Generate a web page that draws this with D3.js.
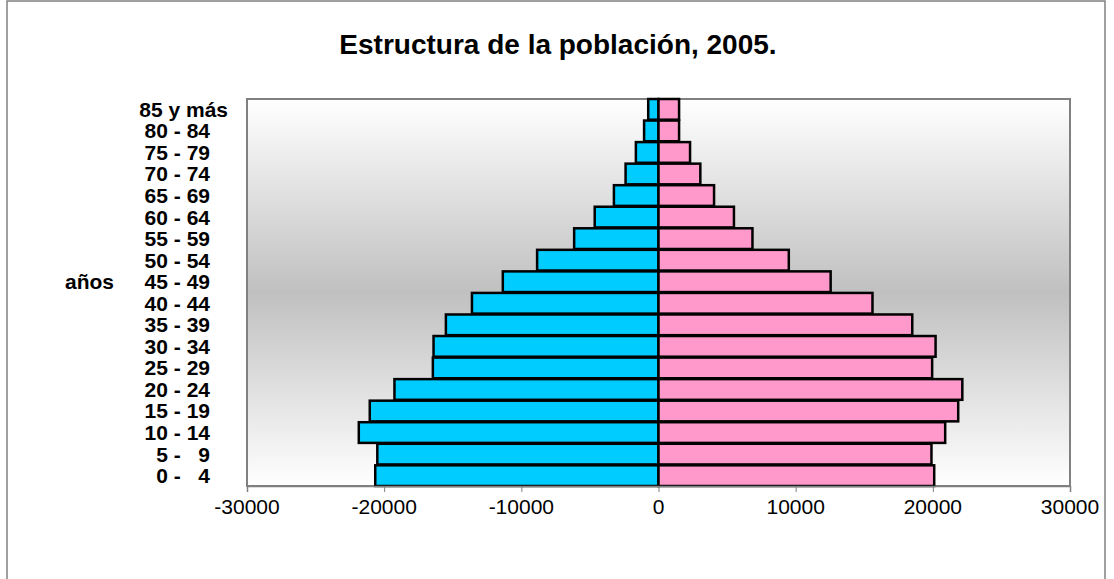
<!DOCTYPE html>
<html lang="es">
<head>
    <meta charset="UTF-8">
    <title>Estructura de la población, 2005.</title>
    <style>
        body { margin: 0; background: #fff; }
        svg { display: block; font-family: "Liberation Sans", Arial, sans-serif; }
        .title { font-size: 28px; font-weight: bold; text-anchor: middle; }
        .cat { font-size: 21px; font-weight: bold; white-space: pre; }
        .tick-label { font-size: 21px; text-anchor: middle; }
    </style>
</head>
<body>
    <svg id="chart" width="1114" height="579"></svg>
    <script src="https://d3js.org/d3.v7.min.js"></script>
    <script>
        // age groups, from youngest to oldest
        const categories = ["0 -   4", "5 -   9", "10 - 14", "15 - 19", "20 - 24", "25 - 29",
            "30 - 34", "35 - 39", "40 - 44", "45 - 49", "50 - 54", "55 - 59",
            "60 - 64", "65 - 69", "70 - 74", "75 - 79", "80 - 84", "85 y más"];
        // left side (blue)
        const hombres = [20650, 20500, 21850, 21050, 19250, 16450, 16400, 15500, 13600,
            11350, 8850, 6150, 4650, 3250, 2400, 1650, 1050, 750];
        // right side (pink)
        const mujeres = [20100, 19900, 20900, 21850, 22150, 19950, 20200, 18500, 15600,
            12550, 9500, 6850, 5500, 4050, 3050, 2300, 1500, 1500];
        const xTicks = [-30000, -20000, -10000, 0, 10000, 20000, 30000];

        const svg = d3.select("#chart");
        const plot = {left: 247, right: 1070, top: 99, bottom: 486};

        // gradient background of the plot area
        const grad = svg.append("defs").append("linearGradient")
            .attr("id", "bg").attr("x1", 0).attr("y1", 0).attr("x2", 0).attr("y2", 1);
        grad.append("stop").attr("offset", "0%").attr("stop-color", "#ffffff");
        grad.append("stop").attr("offset", "50%").attr("stop-color", "#c0c0c0");
        grad.append("stop").attr("offset", "100%").attr("stop-color", "#ffffff");

        // outer chart frame
        svg.append("rect")
            .attr("x", 7).attr("y", 1).attr("width", 1098).attr("height", 640)
            .attr("fill", "none").attr("stroke", "#808080").attr("stroke-width", 1.5);

        svg.append("text")
            .attr("class", "title")
            .attr("x", 558).attr("y", 54)
            .text("Estructura de la población, 2005.");

        const x = d3.scaleLinear().domain([-30000, 30000]).range([plot.left, plot.right]);
        const y = d3.scaleBand()
            .domain(categories.slice().reverse())
            .range([plot.top, plot.bottom])
            .paddingInner(0.04);

        svg.append("rect")
            .attr("x", plot.left).attr("y", plot.top)
            .attr("width", plot.right - plot.left).attr("height", plot.bottom - plot.top)
            .attr("fill", "url(#bg)").attr("stroke", "#808080").attr("stroke-width", 2);

        const rows = categories.map((c, i) => ({cat: c, h: hombres[i], m: mujeres[i]}));

        svg.append("g").selectAll("rect")
            .data(rows)
            .join("rect")
            .attr("x", d => x(-d.h))
            .attr("y", d => y(d.cat))
            .attr("width", d => x(0) - x(-d.h))
            .attr("height", y.bandwidth())
            .attr("fill", "#00ccff")
            .attr("stroke", "#000").attr("stroke-width", 2.5);

        svg.append("g").selectAll("rect")
            .data(rows)
            .join("rect")
            .attr("x", x(0))
            .attr("y", d => y(d.cat))
            .attr("width", d => x(d.m) - x(0))
            .attr("height", y.bandwidth())
            .attr("fill", "#ff99cc")
            .attr("stroke", "#000").attr("stroke-width", 2.5);

        // x axis
        const xAxis = svg.append("g")
            .attr("transform", `translate(0,${plot.bottom})`)
            .call(d3.axisBottom(x).tickValues(xTicks).tickSize(6).tickFormat(""));
        xAxis.select(".domain").attr("stroke", "#808080").attr("stroke-width", 1.5);
        xAxis.selectAll(".tick line").attr("stroke", "#808080");

        svg.append("g").selectAll("text")
            .data(xTicks)
            .join("text")
            .attr("class", "tick-label")
            .attr("x", d => x(d))
            .attr("y", 514)
            .text(d => d);

        // category labels
        svg.append("g").selectAll("text")
            .data(categories)
            .join("text")
            .attr("class", "cat")
            .attr("text-anchor", "end")
            .attr("x", d => d === "85 y más" ? 228 : 210)
            .attr("y", d => y(d) + y.step() / 2 + 7)
            .text(d => d);

        svg.append("text")
            .attr("class", "cat")
            .attr("x", 65)
            .attr("y", y("45 - 49") + y.step() / 2 + 7)
            .text("años");
    </script>
</body>
</html>
